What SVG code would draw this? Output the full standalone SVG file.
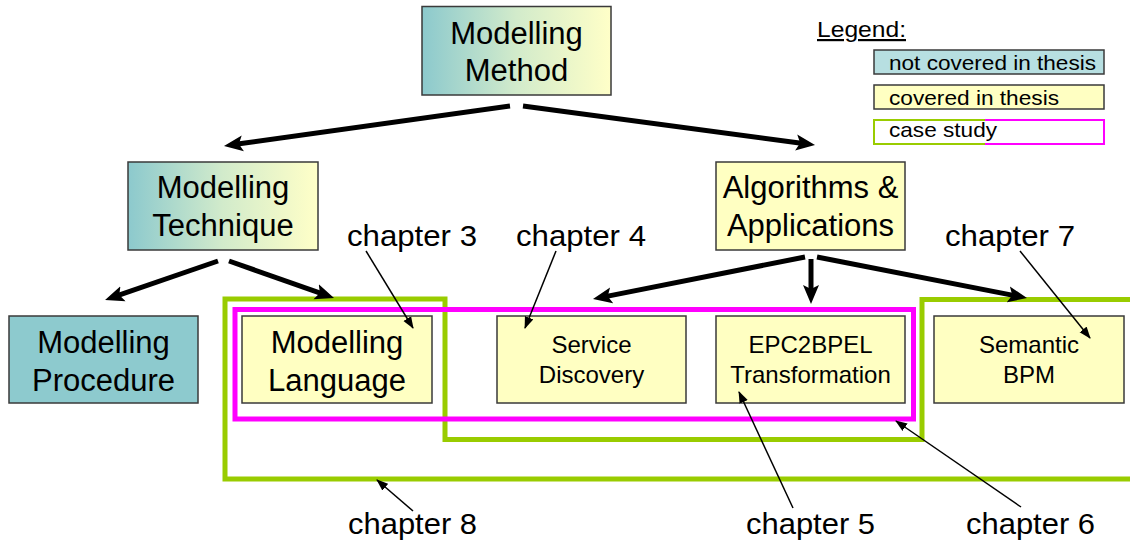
<svg xmlns="http://www.w3.org/2000/svg" width="1130" height="547" viewBox="0 0 1130 547">
  <defs>
    <linearGradient id="tealYellow" x1="0" y1="0" x2="1" y2="0">
      <stop offset="0" stop-color="#8CC9CD"/>
      <stop offset="0.5" stop-color="#D2EBCB"/>
      <stop offset="1" stop-color="#FFFFC8"/>
    </linearGradient>
    <marker id="bigHead" markerUnits="userSpaceOnUse" markerWidth="20" markerHeight="18" viewBox="0 0 20 18" refX="9" refY="9" orient="auto">
      <path d="M0,1 L19,9 L0,17 L4,9 z" fill="#000"/>
    </marker>
    <marker id="smallHead" markerUnits="userSpaceOnUse" markerWidth="12" markerHeight="10" viewBox="0 0 12 10" refX="11" refY="5" orient="auto">
      <path d="M0,0.5 L12,5 L0,9.5 z" fill="#000"/>
    </marker>
  </defs>
  <style>
    text { font-family: "Liberation Sans", Arial, sans-serif; fill: #000; }
    .grad { fill: url(#tealYellow); stroke: #3a3a3a; stroke-width: 1.5; }
    .teal { fill: #8DCACE; stroke: #3a3a3a; stroke-width: 1.5; }
    .yellow { fill: #FFFFC2; stroke: #3a3a3a; stroke-width: 1.5; }
    .big { font-size: 31px; text-anchor: middle; }
    .small { font-size: 24px; text-anchor: middle; }
    .chap { font-size: 29px; }
    .legtxt { font-size: 21px; }
    .thick { stroke: #000; stroke-width: 5; fill: none; marker-end: url(#bigHead); }
    .thin { stroke: #000; stroke-width: 1.5; fill: none; marker-end: url(#smallHead); }
    .green { stroke: #99CC00; stroke-width: 5; fill: none; }
    .magenta { stroke: #FF00FF; stroke-width: 5; fill: none; }
  </style>

  <rect width="1130" height="547" fill="#fff"/>

  <!-- case study frames -->
  <g id="frames">
    <path class="green" d="M1135,299.5 H922 V439.5 H445 V299 H225 V479 H1135"/>
    <rect class="magenta" x="235" y="309.5" width="678.5" height="109.5"/>
  </g>

  <g id="modelling-method">
    <rect class="grad" x="422" y="6.5" width="189" height="88.5"/>
    <text class="big" x="516.5" y="44">Modelling</text>
    <text class="big" x="516.5" y="81">Method</text>
  </g>

  <g id="modelling-technique">
    <rect class="grad" x="128" y="162" width="190" height="88"/>
    <text class="big" x="223" y="198">Modelling</text>
    <text class="big" x="223" y="236">Technique</text>
  </g>

  <g id="algorithms-applications">
    <rect class="yellow" x="716" y="162" width="189" height="88"/>
    <text class="big" x="810.5" y="198">Algorithms &amp;</text>
    <text class="big" x="810.5" y="236">Applications</text>
  </g>

  <g id="modelling-procedure">
    <rect class="teal" x="9" y="316" width="189" height="87"/>
    <text class="big" x="103.5" y="353">Modelling</text>
    <text class="big" x="103.5" y="391">Procedure</text>
  </g>

  <g id="modelling-language">
    <rect class="yellow" x="242" y="316" width="190" height="87"/>
    <text class="big" x="337" y="353">Modelling</text>
    <text class="big" x="337" y="391">Language</text>
  </g>

  <g id="service-discovery">
    <rect class="yellow" x="497" y="316" width="189" height="87"/>
    <text class="small" x="591.5" y="353">Service</text>
    <text class="small" x="591.5" y="383">Discovery</text>
  </g>

  <g id="epc2bpel">
    <rect class="yellow" x="716" y="316" width="189" height="87"/>
    <text class="small" x="810.5" y="353">EPC2BPEL</text>
    <text class="small" x="810.5" y="383">Transformation</text>
  </g>

  <g id="semantic-bpm">
    <rect class="yellow" x="934" y="316" width="190" height="87"/>
    <text class="small" x="1029" y="353">Semantic</text>
    <text class="small" x="1029" y="383">BPM</text>
  </g>

  <g id="connectors">
    <line class="thick" x1="510" y1="106" x2="233.9" y2="144.6"/>
    <line class="thick" x1="523" y1="106" x2="805.1" y2="143.7"/>
    <line class="thick" x1="218" y1="261" x2="114.5" y2="296.7"/>
    <line class="thick" x1="229" y1="261" x2="324.6" y2="294.7"/>
    <line class="thick" x1="805" y1="257" x2="602.8" y2="297.1"/>
    <line class="thick" x1="811" y1="259" x2="811" y2="294"/>
    <line class="thick" x1="817" y1="257" x2="1017.2" y2="296.1"/>

    <line class="thin" x1="366" y1="251" x2="413" y2="328"/>
    <line class="thin" x1="556" y1="251" x2="525" y2="328"/>
    <line class="thin" x1="1020" y1="251" x2="1090" y2="338"/>
    <line class="thin" x1="793" y1="508" x2="739" y2="392"/>
    <line class="thin" x1="1021" y1="507" x2="896" y2="421"/>
    <line class="thin" x1="413" y1="511" x2="377" y2="480"/>
  </g>

  <g id="chapter-labels">
    <text class="chap" x="347" y="246" textLength="130" lengthAdjust="spacingAndGlyphs">chapter 3</text>
    <text class="chap" x="516" y="246" textLength="130" lengthAdjust="spacingAndGlyphs">chapter 4</text>
    <text class="chap" x="945" y="246" textLength="130" lengthAdjust="spacingAndGlyphs">chapter 7</text>
    <text class="chap" x="348" y="534" textLength="129" lengthAdjust="spacingAndGlyphs">chapter 8</text>
    <text class="chap" x="746" y="534" textLength="129" lengthAdjust="spacingAndGlyphs">chapter 5</text>
    <text class="chap" x="966" y="534" textLength="129" lengthAdjust="spacingAndGlyphs">chapter 6</text>
  </g>

  <g id="legend">
    <text x="817" y="37" font-size="22" text-decoration="underline" textLength="89" lengthAdjust="spacingAndGlyphs">Legend:</text>
    <rect x="874" y="50" width="230" height="24" fill="#B7DFE1" stroke="#3a3a3a" stroke-width="1.5"/>
    <text class="legtxt" x="889" y="70" textLength="207" lengthAdjust="spacingAndGlyphs">not covered in thesis</text>
    <rect x="874" y="85" width="230" height="24" fill="#FFFFC2" stroke="#3a3a3a" stroke-width="1.5"/>
    <text class="legtxt" x="889" y="105" textLength="170" lengthAdjust="spacingAndGlyphs">covered in thesis</text>
    <rect x="874" y="120" width="230" height="24" fill="#fff" stroke="none"/>
    <path d="M985,120 H874 V144 H985" fill="none" stroke="#99CC00" stroke-width="2"/>
    <path d="M985,120 H1104 V144 H985" fill="none" stroke="#FF00FF" stroke-width="2"/>
    <text class="legtxt" x="889" y="137" textLength="108" lengthAdjust="spacingAndGlyphs">case study</text>
  </g>
</svg>
